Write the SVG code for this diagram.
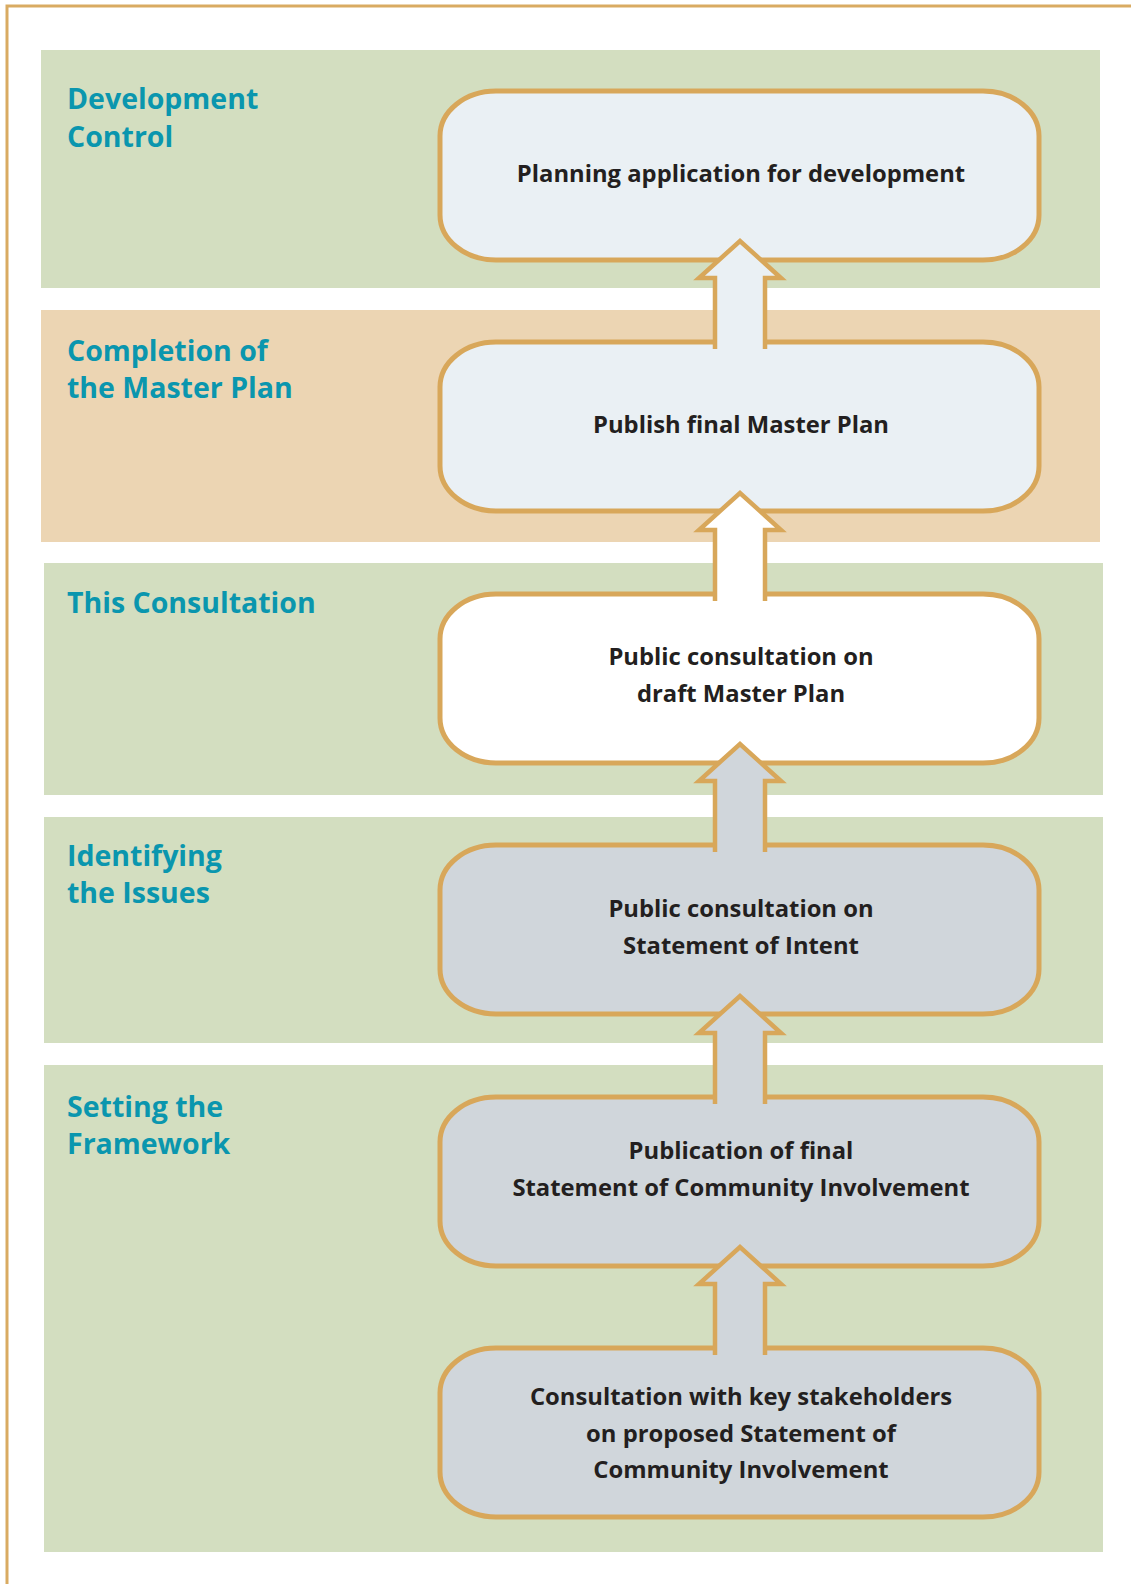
<svg xmlns="http://www.w3.org/2000/svg" width="1131" height="1584" viewBox="0 0 1131 1584">
<style>
.band-g{fill:#d3dec0}
.band-o{fill:#ecd5b3}
.box{stroke:#d8a75a;stroke-width:5}
.light{fill:#eaf0f4}
.white{fill:#ffffff}
.gray{fill:#d0d6db}
.head{font-family:"Open Sans",Lato,sans-serif;font-weight:700;font-size:28.5px;fill:#0a96ae}
.lbl{font-family:"Open Sans",Lato,sans-serif;font-weight:700;font-size:23.8px;fill:#231f20;text-anchor:middle}
.aline{fill:none;stroke:#d8a75a;stroke-width:4.5;stroke-linejoin:miter}
</style>
<rect width="1131" height="1584" fill="#ffffff"/>
<path d="M7,1584 V6 H1131" fill="none" stroke="#d9ab62" stroke-width="3"/>
<g id="bands">
<rect class="band-g" x="41" y="50" width="1059" height="238"/>
<rect class="band-o" x="41" y="310" width="1059" height="232"/>
<rect class="band-g" x="44" y="563" width="1059" height="232"/>
<rect class="band-g" x="44" y="817" width="1059" height="226"/>
<rect class="band-g" x="44" y="1065" width="1059" height="487"/>
</g>
<g id="headings">
<text class="head" x="67" y="109">Development</text>
<text class="head" x="67" y="147">Control</text>
<text class="head" x="67" y="361">Completion of</text>
<text class="head" x="67" y="398">the Master Plan</text>
<text class="head" x="67" y="613">This Consultation</text>
<text class="head" x="67" y="866">Identifying</text>
<text class="head" x="67" y="903">the Issues</text>
<text class="head" x="67" y="1117">Setting the</text>
<text class="head" x="67" y="1154">Framework</text>
</g>
<g id="node1"><rect class="box light" x="440" y="91" width="599" height="169" rx="56" ry="45"/>
<text class="lbl" x="741" y="182">Planning application for development</text></g>
<g id="node2"><rect class="box light" x="440" y="342" width="599" height="169" rx="56" ry="45"/>
<text class="lbl" x="741" y="433">Publish final Master Plan</text></g>
<g id="node3"><rect class="box white" x="440" y="594" width="599" height="169" rx="56" ry="45"/>
<text class="lbl" x="741" y="665">Public consultation on</text>
<text class="lbl" x="741" y="702">draft Master Plan</text></g>
<g id="node4"><rect class="box gray" x="440" y="845" width="599" height="169" rx="56" ry="45"/>
<text class="lbl" x="741" y="917">Public consultation on</text>
<text class="lbl" x="741" y="954">Statement of Intent</text></g>
<g id="node5"><rect class="box gray" x="440" y="1097" width="599" height="169" rx="56" ry="45"/>
<text class="lbl" x="741" y="1159">Publication of final</text>
<text class="lbl" x="741" y="1196">Statement of Community Involvement</text></g>
<g id="node6"><rect class="box gray" x="440" y="1348" width="599" height="169" rx="56" ry="45"/>
<text class="lbl" x="741" y="1405">Consultation with key stakeholders</text>
<text class="lbl" x="741" y="1442">on proposed Statement of</text>
<text class="lbl" x="741" y="1478">Community Involvement</text></g>
<g id="connectors">
<g transform="translate(0,342)">
<path class="light" d="M715,8 V-64 H699 L740,-101 L781,-64 H765 V8 Z"/>
<path class="aline" d="M715,7 V-64 H699 L740,-101 L781,-64 H765 V7"/></g>
<g transform="translate(0,594)">
<path class="white" d="M715,8 V-64 H699 L740,-101 L781,-64 H765 V8 Z"/>
<path class="aline" d="M715,7 V-64 H699 L740,-101 L781,-64 H765 V7"/></g>
<g transform="translate(0,845)">
<path class="gray" d="M715,8 V-64 H699 L740,-101 L781,-64 H765 V8 Z"/>
<path class="aline" d="M715,7 V-64 H699 L740,-101 L781,-64 H765 V7"/></g>
<g transform="translate(0,1097)">
<path class="gray" d="M715,8 V-64 H699 L740,-101 L781,-64 H765 V8 Z"/>
<path class="aline" d="M715,7 V-64 H699 L740,-101 L781,-64 H765 V7"/></g>
<g transform="translate(0,1348)">
<path class="gray" d="M715,8 V-64 H699 L740,-101 L781,-64 H765 V8 Z"/>
<path class="aline" d="M715,7 V-64 H699 L740,-101 L781,-64 H765 V7"/></g>
</g>
</svg>
